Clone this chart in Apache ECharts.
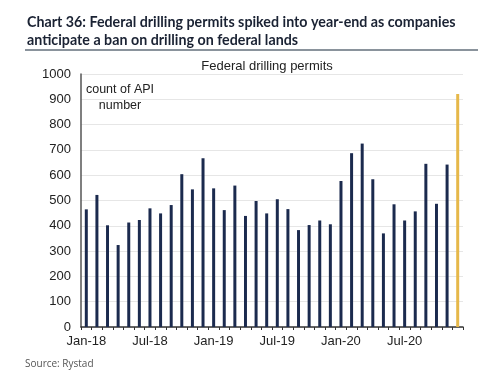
<!DOCTYPE html>
<html><head><meta charset="utf-8">
<script src="https://cdn.jsdelivr.net/npm/echarts@6/dist/echarts.min.js"></script>
<style>html,body{margin:0;padding:0;background:#fff}#c{width:500px;height:385px}</style>
</head><body><div id="c"></div>
<script>
const months = ['Jan','Feb','Mar','Apr','May','Jun','Jul','Aug','Sep','Oct','Nov','Dec'];
const years = ['18','19','20'];
const categories = [];
years.forEach(y => months.forEach(m => categories.push(m + '-' + y)));
const permits = [465,522,402,324,413,423,469,449,482,604,544,667,
                 548,462,559,439,498,449,505,466,383,403,421,406,
                 577,687,725,584,370,485,421,457,645,487,642,921];
const yTicks = [0,100,200,300,400,500,600,700,800,900,1000];
const highlightIndex = permits.length - 1;

const chart = echarts.init(document.getElementById('c'), null, {renderer:'canvas'});
chart.setOption({
  animation:false,
  title:[{
    text:'Federal drilling permits', left:262, top:55, textAlign:'center',
    textStyle:{fontFamily:'Liberation Sans', fontWeight:'normal', fontSize:13, color:'#222'}
  }],
  graphic:[
    {type:'text', x:27, y:13, scaleX:0.92, style:{text:'Chart 36: Federal drilling permits spiked into year-end as companies\nanticipate a ban on drilling on federal lands', font:'bold 15.5px Lato', fill:'#1a2233', lineHeight:18}},
    {type:'line', shape:{x1:25,y1:50,x2:478,y2:50}, style:{stroke:'#8a939c', lineWidth:2}},
    {type:'text', x:120, y:82, style:{text:'count of API\nnumber', font:'12.5px "Liberation Sans"', fill:'#222', lineHeight:16, align:'center'}},
    {type:'text', x:25, y:359, style:{text:'Source: Rystad', font:'10px "Open Sans"', fill:'#555'}}
  ],
  grid:{left:81, right:37, top:74, bottom:58},
  xAxis:{
    type:'category', data:categories,
    axisLine:{lineStyle:{color:'#333', width:1.5}},
    axisTick:{show:true, interval:0, length:3, lineStyle:{color:'#333'}},
    axisLabel:{interval:5, color:'#222', fontFamily:'Liberation Sans', fontSize:13, margin:8}
  },
  yAxis:{
    type:'value', min:0, max:1000, interval:100,
    axisLine:{show:true, lineStyle:{color:'#555', width:1.5}},
    axisTick:{show:false},
    axisLabel:{color:'#222', fontFamily:'Liberation Sans', fontSize:13, margin:10, formatter:v=>String(v)},
    splitLine:{lineStyle:{color:'#e6e6e6', width:1}}
  },
  series:[{
    type:'bar', barWidth:3,
    data:permits.map((v,i)=>({value:v, itemStyle:{color: i===highlightIndex ? '#e6b84a' : '#1b2a4e'}}))
  }]
});
</script></body></html>
